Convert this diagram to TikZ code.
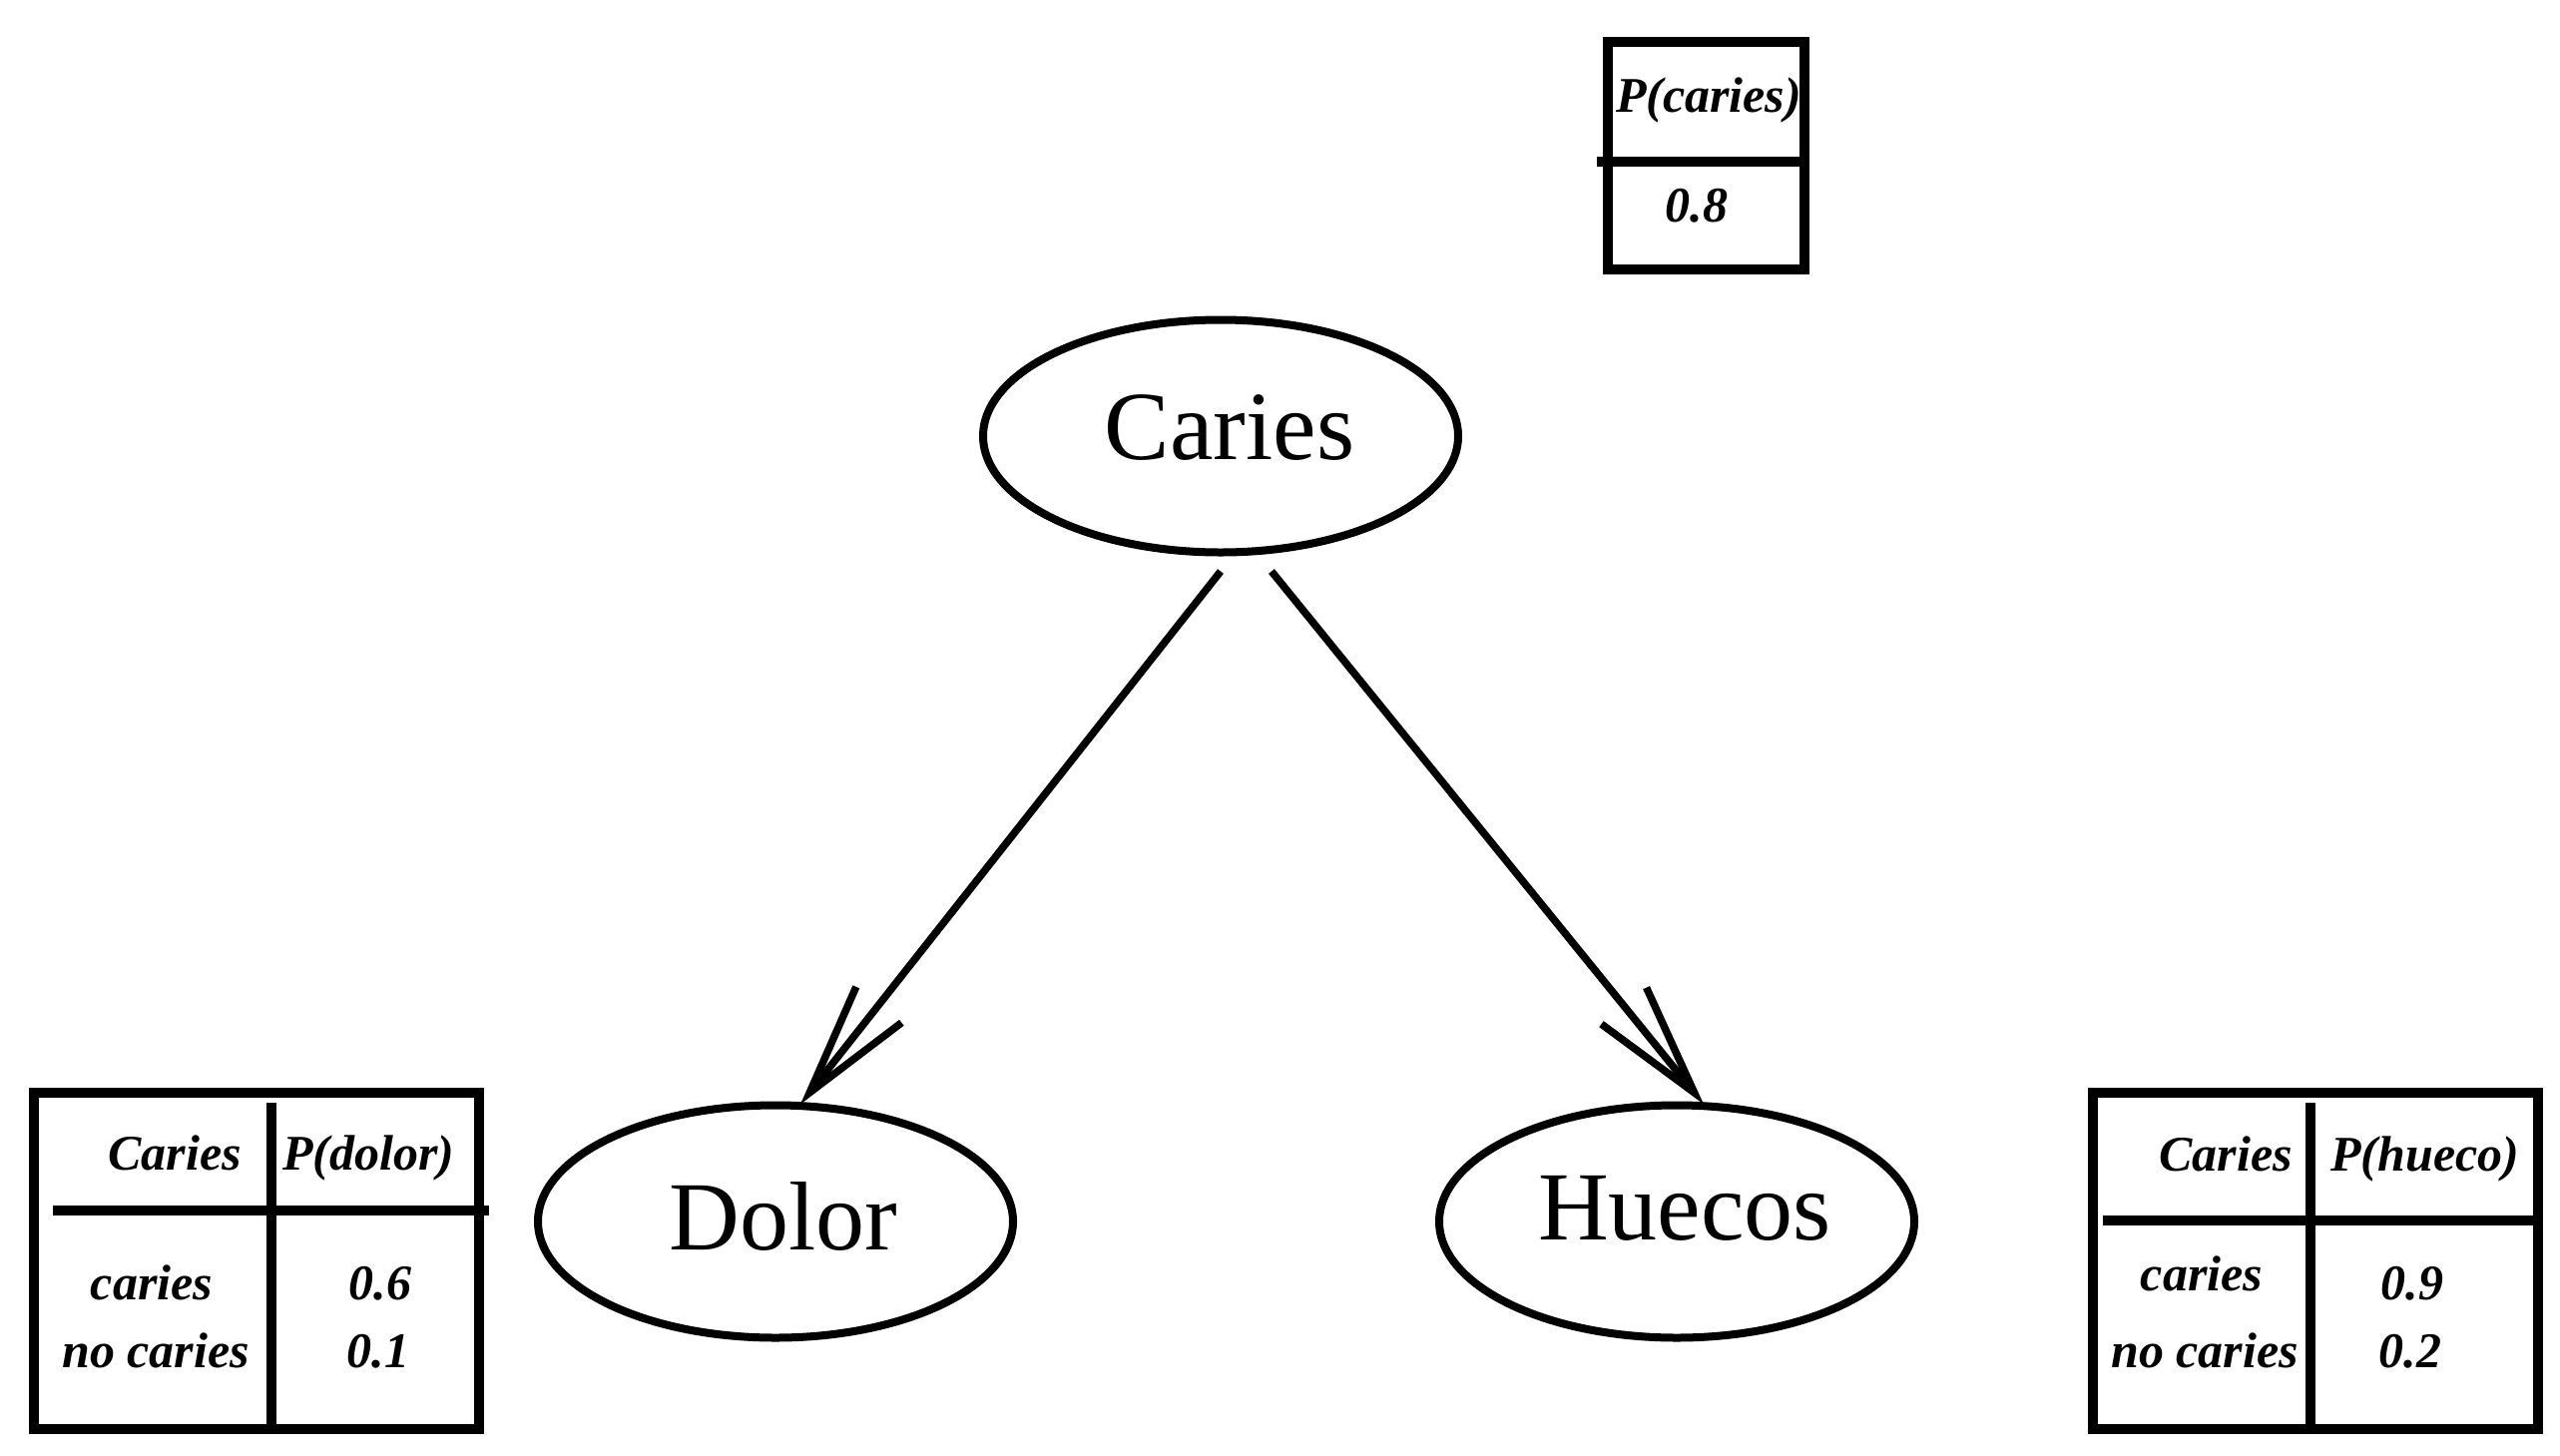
\documentclass[tikz,border=0pt]{standalone}
\usepackage{fontspec}
\setmainfont{Liberation Serif}
\usetikzlibrary{arrows.meta,shapes.geometric}
\tikzset{
  varnode/.style={ellipse,draw,line width=8pt,minimum width=476pt,minimum height=233pt,inner sep=0pt},
  vartext/.style={inner sep=0pt,anchor=base,font=\fontsize{98}{110}\selectfont},
  arr/.style={line width=7.5pt,-{Straight Barb[length=112pt,width=58pt]}},
  tbl/.style={line width=10pt},
  tt/.style={inner sep=0pt,font=\fontsize{50}{58}\selectfont\bfseries\itshape}
}
\begin{document}
\begin{tikzpicture}[x=1pt,y=-1pt]
\useasboundingbox[fill=white] (0,0) rectangle (2565,1459);
% nodes
\node[varnode] (car) at (1223,437) {};
\node[varnode] (dol) at (777,1224) {};
\node[varnode] (hue) at (1680,1224) {};
\node[vartext] (cart) at (1232,460) {Caries};
\node[vartext] (dolt) at (785,1252) {Dolor};
\node[vartext] (huet) at (1688,1242) {Huecos};
% arrows
\draw[arr] ([yshift=-15pt]car.south) -- ([xshift=25pt,yshift=-3pt]dol.north);
\draw[arr] ([xshift=51pt,yshift=-15pt]car.south) -- ([xshift=27pt,yshift=-3pt]hue.north);
% top table
\draw[tbl] (1611,42) rectangle (1808,270);
\draw[tbl] (1600,162) -- (1808,162);
\node[tt,anchor=base] (pc) at (1712,112) {P(caries)};
\node[tt,anchor=base] (pc1) at (1700,222) {0.8};
% left table
\draw[tbl] (34,1095) rectangle (480,1432);
\draw[tbl] (272,1105) -- (272,1432);
\draw[tbl] (53,1213) -- (490,1213);
\node[tt,anchor=base east] (lh1) at (242,1172) {Caries};
\node[tt,anchor=base west] (lh2) at (283,1172) {P(dolor)};
\node[tt,anchor=base] (lr1) at (152,1302) {caries};
\node[tt,anchor=base] (lr2) at (156,1370) {no caries};
\node[tt,anchor=base] (lv1) at (381,1302) {0.6};
\node[tt,anchor=base] (lv2) at (379,1370) {0.1};
% right table
\draw[tbl] (2097,1095) rectangle (2543,1432);
\draw[tbl] (2315,1105) -- (2315,1432);
\draw[tbl] (2107,1223) -- (2543,1223);
\node[tt,anchor=base east] (rh1) at (2297,1173) {Caries};
\node[tt,anchor=base west] (rh2) at (2335,1173) {P(hueco)};
\node[tt,anchor=base] (rr1) at (2206,1293) {caries};
\node[tt,anchor=base] (rr2) at (2209,1370) {no caries};
\node[tt,anchor=base] (rv1) at (2417,1302) {0.9};
\node[tt,anchor=base] (rv2) at (2415,1370) {0.2};
\end{tikzpicture}
\end{document}
